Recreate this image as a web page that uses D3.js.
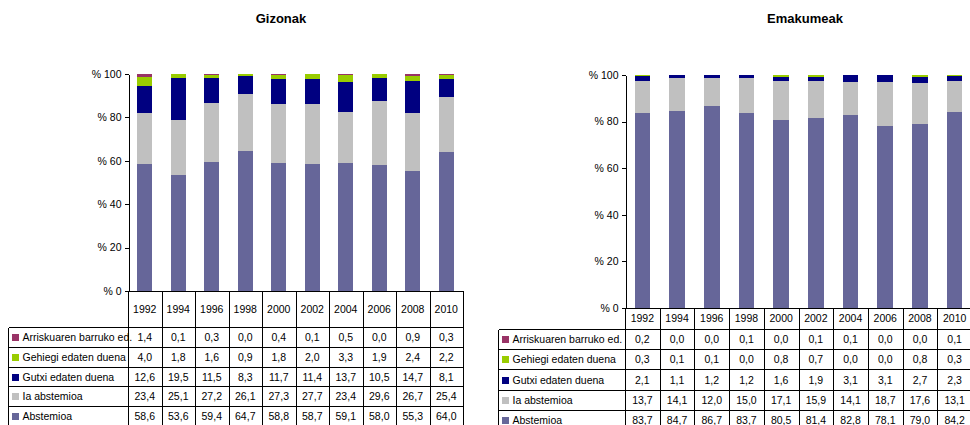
<!DOCTYPE html>
<html>
<head>
<meta charset="utf-8">
<script src="https://cdn.jsdelivr.net/npm/d3@7"></script>
<style>
  body { margin: 0; background: #fff; }
  svg { display: block; font-family: "Liberation Sans", Arial, sans-serif; }
</style>
</head>
<body>
<svg id="chart" width="970" height="425"></svg>
<script>
// ---- data ----
var years = ['1992', '1994', '1996', '1998', '2000', '2002', '2004', '2006', '2008', '2010'];
var seriesNames = ['Abstemioa', 'Ia abstemioa', 'Gutxi edaten duena', 'Gehiegi edaten duena', 'Arriskuaren barruko ed.'];
var seriesColors = ['#666699', '#c0c0c0', '#000080', '#99cc00', '#993366'];
var yTicks = [0, 20, 40, 60, 80, 100];

// Gizonak (men)
var gizAbstemioa = [58.6, 53.6, 59.4, 64.7, 58.8, 58.7, 59.1, 58.0, 55.3, 64.0];
var gizIaAbstemioa = [23.4, 25.1, 27.2, 26.1, 27.3, 27.7, 23.4, 29.6, 26.7, 25.4];
var gizGutxi = [12.6, 19.5, 11.5, 8.3, 11.7, 11.4, 13.7, 10.5, 14.7, 8.1];
var gizGehiegi = [4.0, 1.8, 1.6, 0.9, 1.8, 2.0, 3.3, 1.9, 2.4, 2.2];
var gizArrisku = [1.4, 0.1, 0.3, 0.0, 0.4, 0.1, 0.5, 0.0, 0.9, 0.3];

// Emakumeak (women)
var emaAbstemioa = [83.7, 84.7, 86.7, 83.7, 80.5, 81.4, 82.8, 78.1, 79.0, 84.2];
var emaIaAbstemioa = [13.7, 14.1, 12.0, 15.0, 17.1, 15.9, 14.1, 18.7, 17.6, 13.1];
var emaGutxi = [2.1, 1.1, 1.2, 1.2, 1.6, 1.9, 3.1, 3.1, 2.7, 2.3];
var emaGehiegi = [0.3, 0.1, 0.1, 0.0, 0.8, 0.7, 0.0, 0.0, 0.8, 0.3];
var emaArrisku = [0.2, 0.0, 0.0, 0.1, 0.0, 0.1, 0.1, 0.0, 0.0, 0.1];

var locale = d3.formatLocale({ decimal: ',', thousands: '.', grouping: [3], currency: ['', ''] });
var fmt = locale.format('.1f');
var fontSize = 10.5;

var svg = d3.select('#chart');

function px(v) { return Math.round(v) + 0.5; }

function drawPanel(opt) {
  var rows = years.map(function (yr, i) {
    var r = { year: yr };
    seriesNames.forEach(function (s, k) { r[s] = opt.series[k][i]; });
    return r;
  });

  var x = d3.scaleBand()
    .domain(years)
    .range([opt.axisX, opt.axisX + opt.colW * years.length])
    .paddingInner(0.55)
    .paddingOuter(0.275);

  var y = d3.scaleLinear()
    .domain([0, 100])
    .range([opt.y0, opt.y100])
    .clamp(true);

  var color = d3.scaleOrdinal().domain(seriesNames).range(seriesColors);

  var stacked = d3.stack().keys(seriesNames)(rows);

  var g = svg.append('g');

  // title
  g.append('text')
    .attr('x', opt.titleX)
    .attr('y', 23)
    .attr('text-anchor', 'middle')
    .attr('font-weight', 'bold')
    .attr('font-size', 13)
    .text(opt.title);

  // bars
  g.selectAll('g.layer')
    .data(stacked)
    .enter()
    .append('g')
    .attr('class', 'layer')
    .attr('fill', function (d) { return color(d.key); })
    .selectAll('rect')
    .data(function (d) { return d; })
    .enter()
    .append('rect')
    .attr('x', function (d) { return x(d.data.year); })
    .attr('width', x.bandwidth())
    .attr('y', function (d) { return y(d[1]); })
    .attr('height', function (d) { return Math.max(0, y(d[0]) - y(d[1])); })
    .attr('shape-rendering', 'crispEdges');

  // y axis
  var yAxis = d3.axisLeft(y)
    .tickValues(yTicks)
    .tickSize(4)
    .tickSizeOuter(0)
    .tickPadding(3)
    .tickFormat(function (d) { return '% ' + d; });

  var ax = g.append('g')
    .attr('transform', 'translate(' + px(opt.axisX) + ',0)')
    .call(yAxis);
  ax.attr('font-family', null).attr('font-size', null);
  ax.selectAll('text').attr('font-size', fontSize).attr('fill', '#000');
  ax.selectAll('line, path').attr('stroke', '#000').attr('shape-rendering', 'crispEdges');

  // data table
  var tbl = g.append('g').attr('shape-rendering', 'crispEdges');
  var right = opt.axisX + opt.colW * years.length;
  var headTop = opt.y0;
  var headBot = opt.y0 + opt.headH;
  var nRows = seriesNames.length;
  var tableBot = headBot + opt.rowH * nRows;

  // horizontal lines
  tbl.append('line')
    .attr('x1', px(opt.axisX)).attr('x2', px(right))
    .attr('y1', px(headTop)).attr('y2', px(headTop));
  d3.range(nRows + 1).forEach(function (k) {
    var yy = px(headBot + k * opt.rowH);
    tbl.append('line')
      .attr('x1', px(opt.legendX)).attr('x2', px(right))
      .attr('y1', yy).attr('y2', yy);
  });
  // vertical lines
  d3.range(years.length + 1).forEach(function (k) {
    var xx = px(opt.axisX + k * x.step());
    tbl.append('line')
      .attr('x1', xx).attr('x2', xx)
      .attr('y1', px(headTop)).attr('y2', tableBot);
  });
  tbl.append('line')
    .attr('x1', px(opt.legendX)).attr('x2', px(opt.legendX))
    .attr('y1', px(headBot)).attr('y2', tableBot);
  tbl.selectAll('line').attr('stroke', '#000').attr('stroke-width', 1);

  // header (years)
  g.selectAll('text.year')
    .data(years)
    .enter()
    .append('text')
    .attr('class', 'year')
    .attr('x', function (d, i) { return opt.axisX + (i + 0.5) * x.step(); })
    .attr('y', (headTop + headBot) / 2 + 4)
    .attr('text-anchor', 'middle')
    .attr('font-size', fontSize)
    .text(function (d) { return d; });

  // rows: top row is the last series
  var rowOrder = seriesNames.slice().reverse();
  rowOrder.forEach(function (name, r) {
    var k = seriesNames.indexOf(name);
    var cy = headBot + (r + 0.5) * opt.rowH;
    g.append('rect')
      .attr('x', opt.legendX + 4)
      .attr('y', Math.round(cy - 3))
      .attr('width', 7)
      .attr('height', 7)
      .attr('fill', color(name));
    g.append('text')
      .attr('x', opt.legendX + 14.5)
      .attr('y', cy + 4)
      .attr('font-size', fontSize)
      .text(name);
    g.selectAll(null)
      .data(opt.series[k])
      .enter()
      .append('text')
      .attr('x', function (d, i) { return opt.axisX + (i + 0.5) * x.step(); })
      .attr('y', cy + 4)
      .attr('text-anchor', 'middle')
      .attr('font-size', fontSize)
      .text(function (d) { return fmt(d); });
  });
}

drawPanel({
  title: 'Gizonak',
  titleX: 281,
  series: [gizAbstemioa, gizIaAbstemioa, gizGutxi, gizGehiegi, gizArrisku],
  axisX: 128,
  colW: 33.5,
  y0: 291,
  y100: 74,
  headH: 36,
  rowH: 19.8,
  legendX: 8
});

drawPanel({
  title: 'Emakumeak',
  titleX: 805,
  series: [emaAbstemioa, emaIaAbstemioa, emaGutxi, emaGehiegi, emaArrisku],
  axisX: 625,
  colW: 34.7,
  y0: 308,
  y100: 75,
  headH: 20.5,
  rowH: 20.4,
  legendX: 498
});
</script>
</body>
</html>
